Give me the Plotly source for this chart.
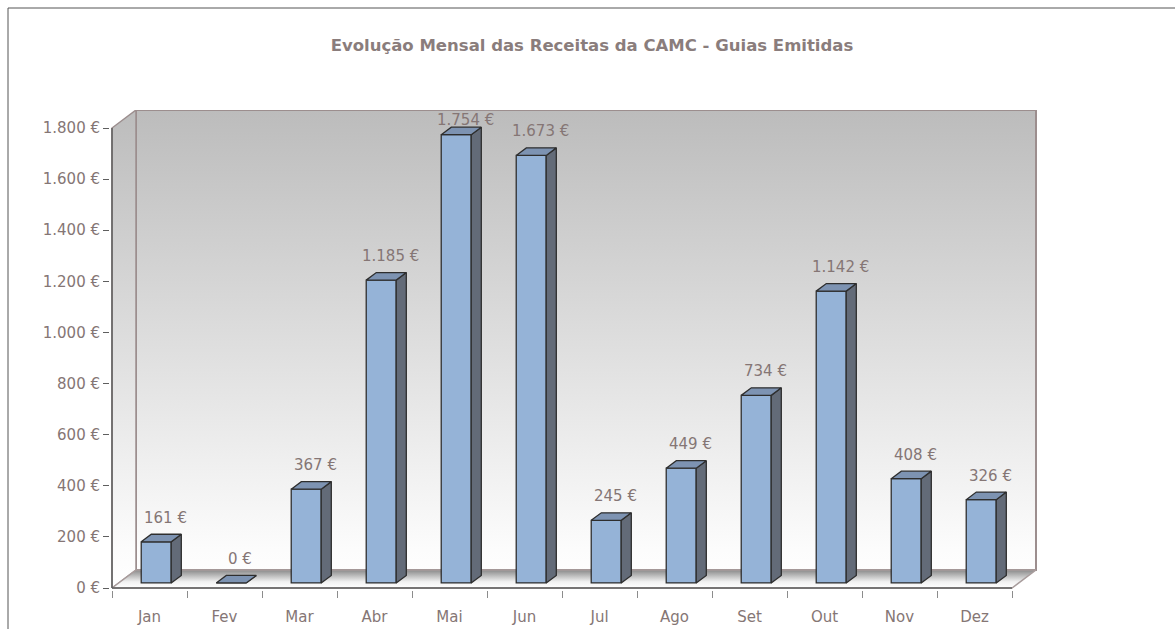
import plotly.graph_objects as go

# ---- data ---------------------------------------------------------------
months = ["Jan", "Fev", "Mar", "Abr", "Mai", "Jun", "Jul", "Ago", "Set", "Out", "Nov", "Dez"]
receitas = [161, 0, 367, 1185, 1754, 1673, 245, 449, 734, 1142, 408, 326]
y_ticks = [0, 200, 400, 600, 800, 1000, 1200, 1400, 1600, 1800]
title_text = "Evolução Mensal das Receitas da CAMC - Guias Emitidas"


def euro(v):
    return f"{v:,}".replace(",", ".") + " €"


# ---- geometry of the pseudo-3D box ---------------------------------------
W, H = 1175, 629
L, R, T, B = 110, 138, 110, 39
PW, PH = W - L - R, H - T - B
PX_X = 75.0                 # pixels per category
PX_Y = 460.0 / 1800.0       # pixels per euro
x_range = [-0.5 - 2 / PX_X, -0.5 - 2 / PX_X + PW / PX_X]
y_range = [-2 / PX_Y, -2 / PX_Y + PH / PX_Y]
DX, DY = 24 / PX_X, 18 / PX_Y           # full depth of the box, in data units
X_LO, X_HI, Y_TOP = -0.5, 11.5, 1800

FD, BD, BW = 0.28, 0.42, 0.40           # bar front depth, bar depth, bar width
bfx, bfy = FD * DX, FD * DY
bdx, bdy = BD * DX, BD * DY

FONT = "DejaVu Sans"
TXT = "#857675"
EDGE = "#9c8e8e"
AXIS = "#5f5f5f"

fig = go.Figure()

wall_grad = dict(type="vertical", start=0, stop=Y_TOP + DY,
                 colorscale=[[0, "#ffffff"], [0.08, "#fcfcfc"], [1, "#bcbcbc"]])

# back wall
fig.add_trace(go.Scatter(
    x=[X_LO + DX, X_HI + DX, X_HI + DX, X_LO + DX, X_LO + DX],
    y=[DY, DY, Y_TOP + DY, Y_TOP + DY, DY],
    mode="lines", fill="toself", fillgradient=wall_grad,
    line=dict(color=EDGE, width=2), hoverinfo="skip", showlegend=False))

# left wall
fig.add_trace(go.Scatter(
    x=[X_LO, X_LO, X_LO + DX, X_LO + DX, X_LO],
    y=[0, Y_TOP, Y_TOP + DY, DY, 0],
    mode="lines", fill="toself", fillgradient=wall_grad,
    line=dict(color=EDGE, width=1.5), hoverinfo="skip", showlegend=False))

# floor
fig.add_trace(go.Scatter(
    x=[X_LO, X_HI, X_HI + DX, X_LO + DX, X_LO],
    y=[0, 0, DY, DY, 0],
    mode="lines", fill="toself",
    fillgradient=dict(type="vertical", start=0, stop=DY,
                      colorscale=[[0, "#ffffff"], [0.35, "#f1f1f1"], [1, "#8a8a8a"]]),
    line=dict(color="#a89c9c", width=1.5), hoverinfo="skip", showlegend=False))

# front axis edges
fig.add_trace(go.Scatter(
    x=[X_LO, X_LO, None, X_LO, X_HI],
    y=[Y_TOP, 0, None, 0, 0],
    mode="lines", line=dict(color=AXIS, width=1.5),
    hoverinfo="skip", showlegend=False))

# ---- bars (front faces) on an overlaid subplot so they sit above the box --
idx = list(range(len(months)))
fig.add_trace(go.Bar(
    x=idx, y=receitas, base=bfy, width=BW, offset=-BW / 2 + bfx,
    marker=dict(color="#95b3d7", line=dict(color="#2e2e2e", width=1.3)),
    xaxis="x2", yaxis="y2", hoverinfo="skip", showlegend=False))

side_x, side_y, top_x, top_y = [], [], [], []
for i, v in zip(idx, receitas):
    xl = i - BW / 2 + bfx
    xr = xl + BW
    yt = bfy + v
    side_x += [xr, xr, xr + bdx, xr + bdx, xr, None]
    side_y += [bfy, yt, yt + bdy, bfy + bdy, bfy, None]
    top_x += [xl, xr, xr + bdx, xl + bdx, xl, None]
    top_y += [yt, yt, yt + bdy, yt + bdy, yt, None]

fig.add_trace(go.Scatter(
    x=side_x, y=side_y, mode="lines", fill="toself", fillcolor="#636b78",
    line=dict(color="#2e2e2e", width=1.3), xaxis="x2", yaxis="y2",
    hoverinfo="skip", showlegend=False))
fig.add_trace(go.Scatter(
    x=top_x, y=top_y, mode="lines", fill="toself", fillcolor="#7d93b2",
    line=dict(color="#2e2e2e", width=1.3), xaxis="x2", yaxis="y2",
    hoverinfo="skip", showlegend=False))

# ---- value labels ---------------------------------------------------------
label_cap = y_range[0] + (H - B - 120) / PX_Y   # keep labels under the top edge
for i, v in zip(idx, receitas):
    ly = min(bfy + v + 24 / PX_Y, label_cap)
    fig.add_annotation(x=i + 0.21, y=ly, xref="x", yref="y", text=euro(v),
                       showarrow=False, xanchor="center", yanchor="middle",
                       font=dict(family=FONT, size=15, color=TXT))

# ---- layout ---------------------------------------------------------------
fig.update_layout(
    width=W, height=H,
    margin=dict(l=L, r=R, t=T, b=B, pad=0, autoexpand=False),
    paper_bgcolor="white", plot_bgcolor="rgba(0,0,0,0)",
    title=dict(text=title_text, x=592 / W, xref="container", xanchor="center",
               y=1 - 45 / H, yref="container", yanchor="middle",
               font=dict(family=FONT, size=16.5, color="#8a7d7c", weight="bold")),
    xaxis=dict(range=x_range, tickvals=idx, ticktext=months, ticks="",
               showgrid=False, zeroline=False, showline=False, automargin=False,
               ticklabelstandoff=16,
               tickfont=dict(family=FONT, size=15, color=TXT),
               minor=dict(tickvals=[k - 0.5 for k in range(len(months) + 1)],
                          ticks="outside", ticklen=7, tickwidth=1,
                          tickcolor="#8c8c8c", showgrid=False)),
    yaxis=dict(range=y_range, tickvals=y_ticks, ticktext=[euro(v) for v in y_ticks],
               ticks="outside", ticklen=6, tickwidth=1.2, tickcolor=AXIS,
               showgrid=False, zeroline=False, showline=False, automargin=False,
               tickfont=dict(family=FONT, size=15, color=TXT)),
    xaxis2=dict(range=x_range, overlaying="x", visible=False),
    yaxis2=dict(range=y_range, overlaying="y", visible=False),
    shapes=[dict(type="rect", xref="paper", yref="paper",
                 x0=(8 - L) / PW, x1=1.3, y0=-0.3, y1=(H - B - 8) / PH,
                 line=dict(color="#555555", width=1), fillcolor="rgba(0,0,0,0)",
                 layer="below")],
)

fig.write_html("out.html")
